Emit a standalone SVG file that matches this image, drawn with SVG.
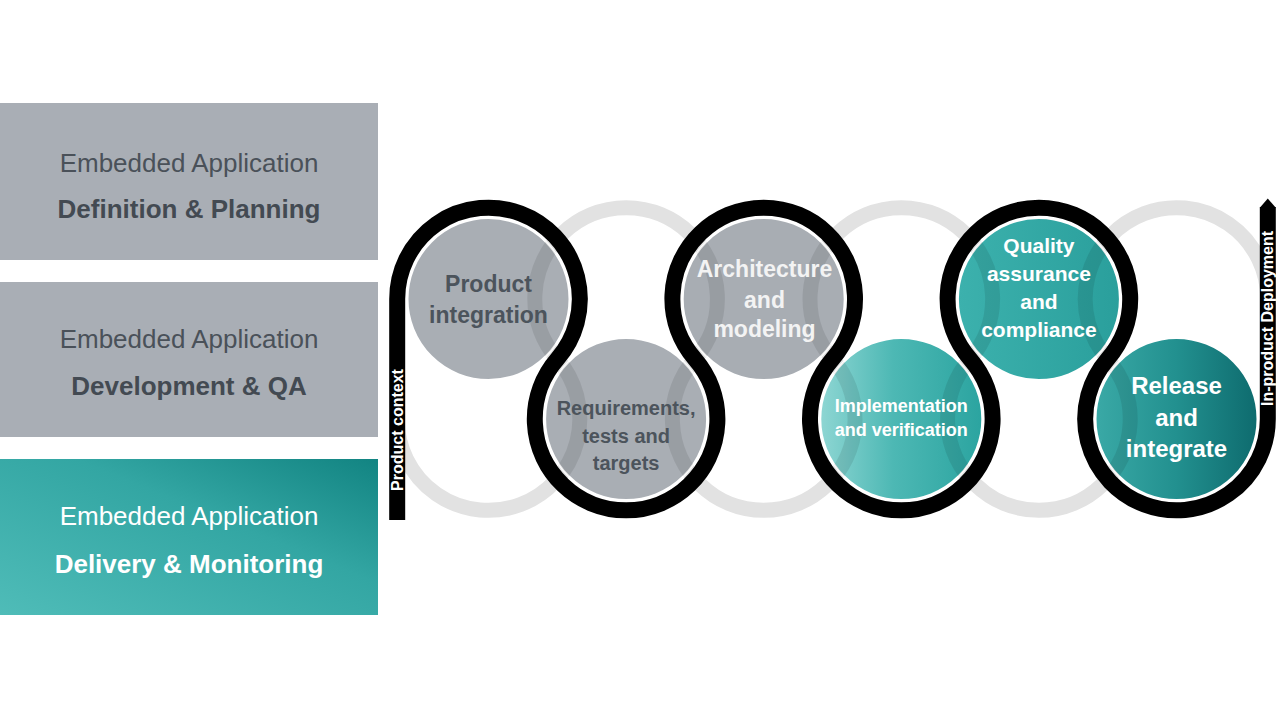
<svg xmlns="http://www.w3.org/2000/svg" width="1280" height="720" viewBox="0 0 1280 720">
  <style>
    .box-gray { fill: #a9aeb5; }
    .t-reg { font-family: "Liberation Sans", Arial, sans-serif; font-size: 26px; text-anchor: middle; }
    .t-bold { font-family: "Liberation Sans", Arial, sans-serif; font-size: 26px; font-weight: bold; text-anchor: middle; }
    .dark { fill: #4a5159; }
    .darkb { fill: #434a52; }
    .white { fill: #ffffff; }
    .ct { font-family: "Liberation Sans", Arial, sans-serif; font-weight: bold; text-anchor: middle; }
    .circ { stroke: #ffffff; stroke-width: 2; }
    .snake-black { fill: none; stroke: #000000; stroke-width: 16; }
    .snake-gray { fill: none; stroke: #e2e2e2; stroke-width: 15; }
    .band { fill: none; stroke: #000000; stroke-opacity: 0.09; stroke-width: 15; }
    .vlabel { font-family: "Liberation Sans", Arial, sans-serif; font-weight: bold; font-size: 16px; fill: #ffffff; text-anchor: middle; }
  </style>
  <defs>
    <linearGradient id="gBox3" x1="0" y1="1" x2="1" y2="0">
      <stop offset="0" stop-color="#4fbcb8"/>
      <stop offset="0.6" stop-color="#33a6a3"/>
      <stop offset="1" stop-color="#128482"/>
    </linearGradient>
    <linearGradient id="gImpl" x1="0" y1="0" x2="1" y2="0">
      <stop offset="0" stop-color="#8ed6d3"/>
      <stop offset="0.45" stop-color="#4db8b4"/>
      <stop offset="1" stop-color="#2ba4a0"/>
    </linearGradient>
    <linearGradient id="gQual" x1="0" y1="0" x2="1" y2="0">
      <stop offset="0" stop-color="#3cb1ad"/>
      <stop offset="1" stop-color="#2a9f9c"/>
    </linearGradient>
    <linearGradient id="gRel" x1="0" y1="0" x2="1" y2="0">
      <stop offset="0" stop-color="#3aa9a6"/>
      <stop offset="0.5" stop-color="#22908f"/>
      <stop offset="1" stop-color="#0e6b6e"/>
    </linearGradient>
    <clipPath id="circClip">
      <circle cx="488.5" cy="299" r="81"/>
      <circle cx="626.1" cy="419" r="81"/>
      <circle cx="763.7" cy="299" r="81"/>
      <circle cx="901.3" cy="419" r="81"/>
      <circle cx="1038.9" cy="299" r="81"/>
      <circle cx="1176.5" cy="419" r="81"/>
    </clipPath>
  </defs>

  <rect width="1280" height="720" fill="#ffffff"/>

  <!-- Left phase boxes -->
  <g id="box-definition">
    <rect class="box-gray" x="0" y="103" width="378" height="157"/>
    <text class="t-reg dark" x="189" y="172">Embedded Application</text>
    <text class="t-bold darkb" x="189" y="218">Definition &amp; Planning</text>
  </g>
  <g id="box-development">
    <rect class="box-gray" x="0" y="282" width="378" height="155"/>
    <text class="t-reg dark" x="189" y="348">Embedded Application</text>
    <text class="t-bold darkb" x="189" y="395">Development &amp; QA</text>
  </g>
  <g id="box-delivery">
    <rect x="0" y="459" width="378" height="156" fill="url(#gBox3)"/>
    <text class="t-reg white" x="189" y="525">Embedded Application</text>
    <text class="t-bold white" x="189" y="573">Delivery &amp; Monitoring</text>
  </g>

  <!-- light gray mirrored snake (behind) -->
  <g id="connectors-back">
    <path id="graySnake" class="snake-gray" d="M397.2,419 A91.3,91.3 0 1 0 557.3,359 A91.3,91.3 0 1 1 694.9,359 A91.3,91.3 0 1 0 832.5,359 A91.3,91.3 0 1 1 970.1,359 A91.3,91.3 0 1 0 1107.7,359 A91.3,91.3 0 1 1 1267.8,299"/>
  </g>

  <!-- Circles -->
  <g id="node-product-integration">
    <circle class="circ" cx="488.5" cy="299" r="81" fill="#a9aeb4"/>
  </g>
  <g id="node-requirements">
    <circle class="circ" cx="626.1" cy="419" r="81" fill="#a9aeb4"/>
  </g>
  <g id="node-architecture">
    <circle class="circ" cx="763.7" cy="299" r="81" fill="#a8adb3"/>
  </g>
  <g id="node-implementation">
    <circle class="circ" cx="901.3" cy="419" r="81" fill="url(#gImpl)"/>
  </g>
  <g id="node-quality">
    <circle class="circ" cx="1038.9" cy="299" r="81" fill="url(#gQual)"/>
  </g>
  <g id="node-release">
    <circle class="circ" cx="1176.5" cy="419" r="81" fill="url(#gRel)"/>
  </g>

  <!-- darker bands where gray snake crosses circles -->
  <g id="bands" clip-path="url(#circClip)">
    <path class="band" d="M397.2,419 A91.3,91.3 0 1 0 557.3,359 A91.3,91.3 0 1 1 694.9,359 A91.3,91.3 0 1 0 832.5,359 A91.3,91.3 0 1 1 970.1,359 A91.3,91.3 0 1 0 1107.7,359 A91.3,91.3 0 1 1 1267.8,299"/>
  </g>

  <!-- black process snake -->
  <g id="connectors">
    <path class="snake-black" d="M397.2,520 L397.2,299 A91.3,91.3 0 1 1 557.3,359 A91.3,91.3 0 1 0 694.9,359 A91.3,91.3 0 1 1 832.5,359 A91.3,91.3 0 1 0 970.1,359 A91.3,91.3 0 1 1 1107.7,359 A91.3,91.3 0 1 0 1267.8,419 L1267.8,207"/>
    <polygon points="1259.8,207.8 1267.8,198.5 1275.8,207.8" fill="#000000"/>
    <text class="vlabel" transform="translate(402.5,430) rotate(-90)">Product context</text>
    <text class="vlabel" transform="translate(1273,318.5) rotate(-90)">In-product Deployment</text>
  </g>

  <!-- Circle labels -->
  <g id="label-product-integration" class="ct" font-size="23" fill="#4c545c">
    <text x="488.5" y="292">Product</text>
    <text x="488.5" y="323">integration</text>
  </g>
  <g id="label-requirements" class="ct" font-size="20" fill="#4c545c">
    <text x="626.1" y="415">Requirements,</text>
    <text x="626.1" y="443">tests and</text>
    <text x="626.1" y="470">targets</text>
  </g>
  <g id="label-architecture" class="ct" font-size="23" fill="#f3f3f3">
    <text x="764.5" y="277">Architecture</text>
    <text x="764.5" y="308">and</text>
    <text x="764.5" y="337">modeling</text>
  </g>
  <g id="label-implementation" class="ct" font-size="18" fill="#ffffff">
    <text x="901.3" y="412">Implementation</text>
    <text x="901.3" y="436">and verification</text>
  </g>
  <g id="label-quality" class="ct" font-size="21" fill="#ffffff">
    <text x="1038.9" y="253">Quality</text>
    <text x="1038.9" y="281">assurance</text>
    <text x="1038.9" y="309">and</text>
    <text x="1038.9" y="337">compliance</text>
  </g>
  <g id="label-release" class="ct" font-size="24" fill="#ffffff">
    <text x="1176.5" y="394">Release</text>
    <text x="1176.5" y="426">and</text>
    <text x="1176.5" y="457">integrate</text>
  </g>
</svg>
